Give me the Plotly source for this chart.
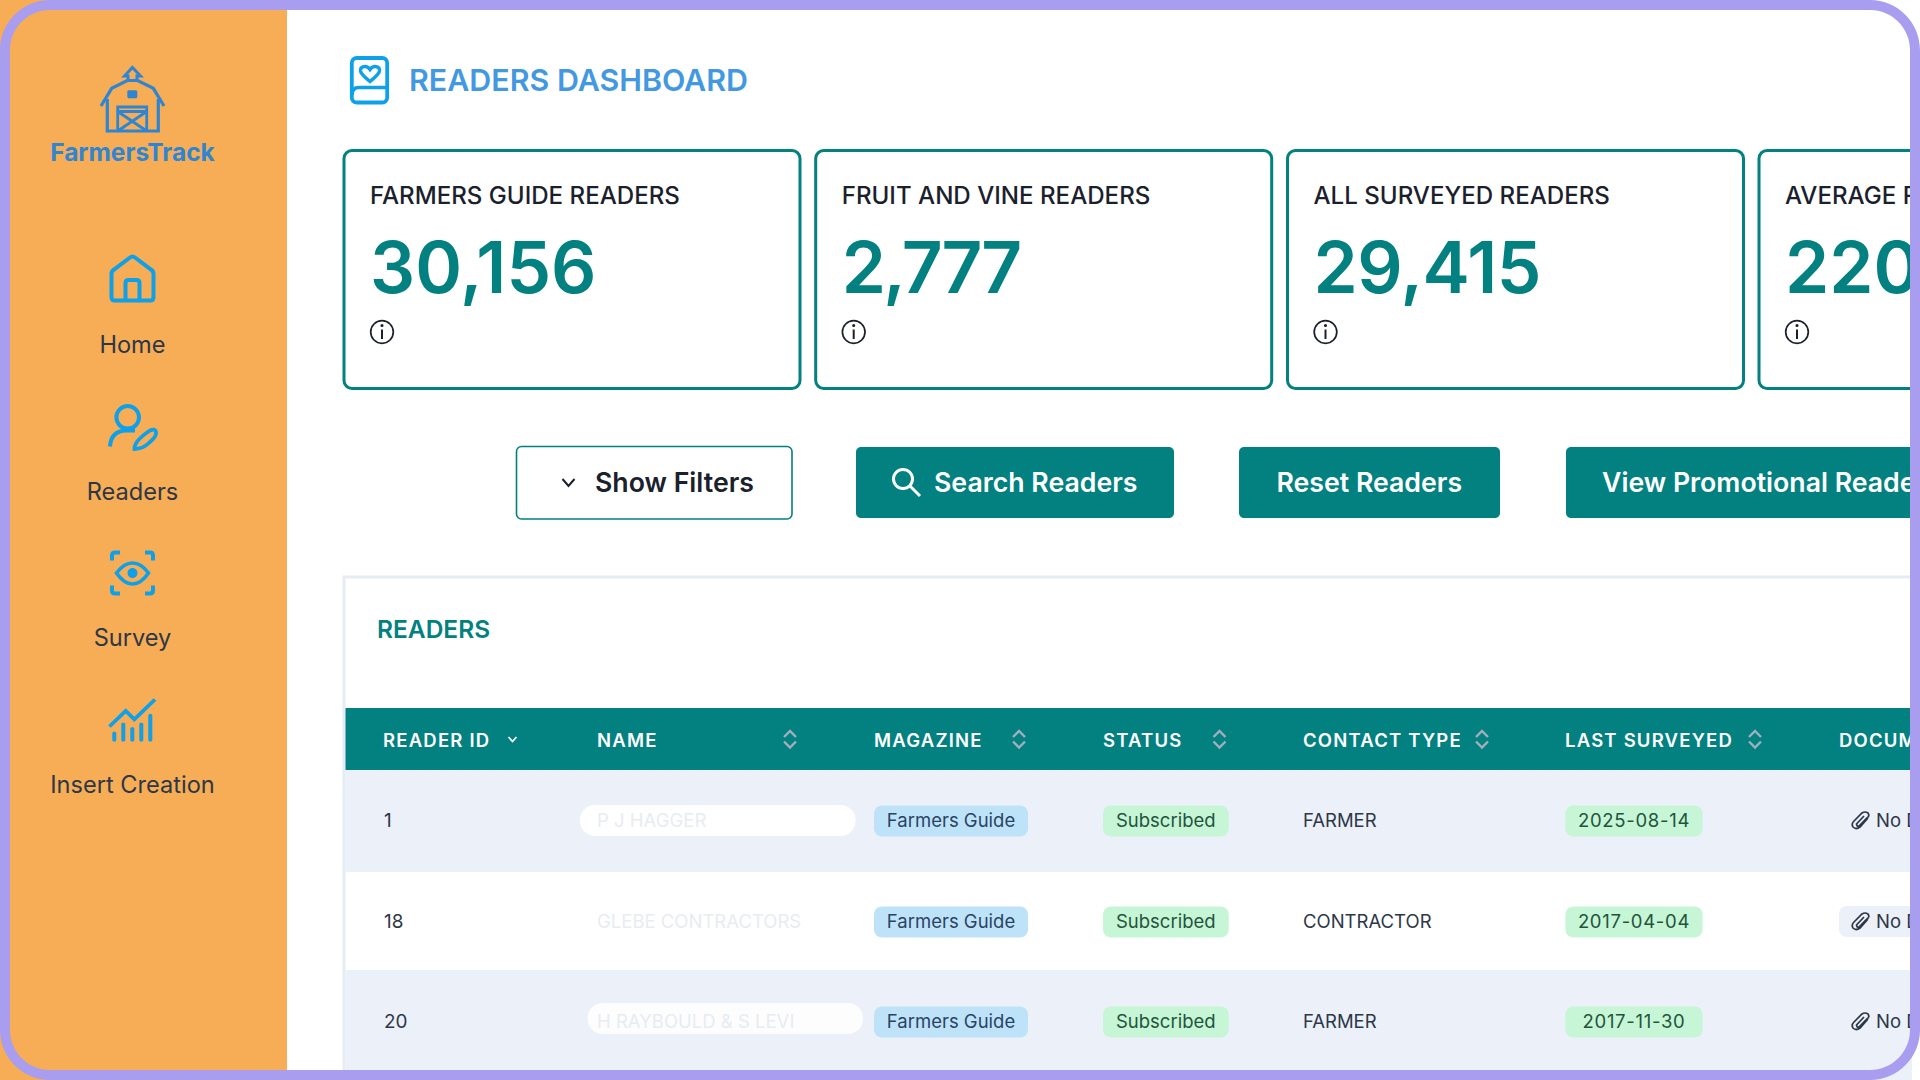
import plotly.graph_objects as go

# ---------- content ----------
brand = "FarmersTrack"
page_title = "READERS DASHBOARD"
nav_labels = ["Home", "Readers", "Survey", "Insert Creation"]
kpi_labels = ["FARMERS GUIDE READERS", "FRUIT AND VINE READERS", "ALL SURVEYED READERS", "AVERAGE READERS"]
kpi_values = ["30,156", "2,777", "29,415", "220"]
button_labels = ["Show Filters", "Search Readers", "Reset Readers", "View Promotional Readers"]
panel_title = "READERS"
columns = ["READER ID", "NAME", "MAGAZINE", "STATUS", "CONTACT TYPE", "LAST SURVEYED", "DOCUMENTS"]
reader_ids = ["1", "18", "20"]
reader_names = ["P J HAGGER", "GLEBE CONTRACTORS", "H RAYBOULD & S LEVI"]
magazines = ["Farmers Guide", "Farmers Guide", "Farmers Guide"]
statuses = ["Subscribed", "Subscribed", "Subscribed"]
contact_types = ["FARMER", "CONTRACTOR", "FARMER"]
last_surveyed = ["2025-08-14", "2017-04-04", "2017-11-30"]
documents = ["No Document", "No Document", "No Document"]

# ---------- layout constants (page pixels) ----------
W, H = 1920, 1080
TEAL, ORANGE, PURPLE = "#038080", "#F6AD55", "#A99DF0"
ICON, LOGO, TITLE = "#0EA0E8", "#2F85D2", "#4299E1"
DARK, BODY = "#1A202C", "#2D3748"
STRIPE = "#ECF0F8"
FONT = "Inter"

shapes, traces = [], []


def rr(x0, y0, x1, y1, r):
    k = 0.4477 * r
    return (f"M {x0+r} {y0} H {x1-r} C {x1-k} {y0} {x1} {y0+k} {x1} {y0+r} V {y1-r} "
            f"C {x1} {y1-k} {x1-k} {y1} {x1-r} {y1} H {x0+r} C {x0+k} {y1} {x0} {y1-k} {x0} {y1-r} "
            f"V {y0+r} C {x0} {y0+k} {x0+k} {y0} {x0+r} {y0} Z")


def path(d, line=None, width=0, fill=None, layer="below"):
    s = dict(type="path", path=d, xref="x", yref="y", layer=layer,
             line=dict(color=line or "rgba(0,0,0,0)", width=width))
    if fill:
        s["fillcolor"] = fill
    shapes.append(s)


def box(x0, y0, x1, y1, r=0, fill=None, line=None, width=0):
    path(rr(x0, y0, x1, y1, r) if r else f"M {x0} {y0} H {x1} V {y1} H {x0} Z", line, width, fill)


def circle(cx, cy, r):
    k = 0.5523 * r
    return (f"M {cx-r} {cy} C {cx-r} {cy-k} {cx-k} {cy-r} {cx} {cy-r} "
            f"C {cx+k} {cy-r} {cx+r} {cy-k} {cx+r} {cy} "
            f"C {cx+r} {cy+k} {cx+k} {cy+r} {cx} {cy+r} "
            f"C {cx-k} {cy+r} {cx-r} {cy+k} {cx-r} {cy} Z")


def text(xs, ys, labels, size, color, weight=400, pos="middle right"):
    traces.append(go.Scatter(x=xs, y=ys, text=labels, mode="text", textposition=pos,
                             textfont=dict(family=FONT, size=size, color=color, weight=weight),
                             hoverinfo="skip", showlegend=False))


# ---------- sidebar ----------
box(0, 0, 287, H, fill=ORANGE)
CX = 132.5
# barn logo
path("M 101 106 L 111.7 88.3 L 127.3 80.5 H 137.7 L 153.3 88.3 L 164 106", LOGO, 3.2)
path("M 128 80 V 76 H 124.5 L 132.4 67.5 L 140.5 76 H 137 V 80", LOGO, 3)
path("M 107.3 99 V 131 H 158.3 V 99", LOGO, 3.2)
box(127.3, 90.3, 137.3, 98.3, r=1.5, fill=LOGO)
path("M 117.7 131 V 107 H 146.7 V 131 M 117.7 111.5 H 146.7 M 117.7 111.5 L 146.7 131 M 146.7 111.5 L 117.7 131", LOGO, 2.8)
text([CX], [155], [brand], 24.5, LOGO, 700, "middle center")
# nav icons
path("M 114.5 300.5 Q 111.5 300.5 111.5 297 V 274 Q 111.5 271 114 269.5 L 130 257.5 Q 132.5 255.5 135 257.5 "
     "L 151 269.5 Q 153.5 271 153.5 274 V 297 Q 153.5 300.5 150.5 300.5 Z", ICON, 4)
path("M 125.5 300.5 V 283 Q 125.5 280 128.5 280 H 136.5 Q 139.5 280 139.5 283 V 300.5", ICON, 4)
path(circle(127.7, 417.3, 11.3), ICON, 4)
path("M 110 446.5 Q 111 431 126 430.5 H 135", ICON, 4)
path("M 134.5 449 Q 134 441 150 430.5 Q 155 428 156 432 Q 157 436 150 442 Q 143 449 134.5 449 Z", ICON, 3.8)
for sx, sy in ((-1, -1), (1, -1), (-1, 1), (1, 1)):
    x1, y1 = CX + sx * 20.5, 573 + sy * 20.5
    path(f"M {x1} {y1 - sy*8} V {y1 - sy*3} Q {x1} {y1} {x1 - sx*3} {y1} H {x1 - sx*8}", ICON, 4)
path("M 116.5 573 Q 124 563 132.5 563 Q 141 563 148.5 573 Q 141 584 132.5 584 Q 124 584 116.5 573 Z", ICON, 3.6)
path(circle(132.5, 573, 5), fill=ICON)
path("M 109.5 726.5 L 125.7 711 L 134.3 719.3 L 155 699.5", ICON, 3.8)
for bx, top in zip((114.3, 123.3, 132.3, 141.3, 150.3), (731.7, 722.7, 727.3, 722.7, 714)):
    box(bx - 2, top, bx + 2, 741.5, r=1.5, fill=ICON)
text([CX] * 4, [347.5, 494.5, 640.5, 787.5], nav_labels, 23.6, BODY, 400, "middle center")

# ---------- header ----------
path(rr(351.8, 58, 387.2, 102.5, 5), ICON, 3.8)
path("M 352 95 Q 352 87.5 359 87.5 H 387", ICON, 3.6)
path("M 370 81.5 C 366 78 361 74.5 360.5 71 C 360 66.5 366.5 64.5 370 69.5 "
     "C 373.5 64.5 380 66.5 379.5 71 C 379 74.5 374 78 370 81.5 Z", ICON, 3.4)
text([409], [83.5], [page_title], 30.4, TITLE, 600)

# ---------- KPI cards ----------
card_left = [344, 815.7, 1287.5, 1759]
for i, x0 in enumerate(card_left):
    box(x0, 150.5, x0 + 456, 388.5, r=8, line=TEAL, width=3)
    path(circle(x0 + 38, 332, 11.3), DARK, 1.7)
    path(f"M {x0+38} 329.5 V 339", DARK, 2)
    path(circle(x0 + 38, 325.5, 0.8), DARK, 1.5)
lx = [x0 + 26 for x0 in card_left]
text(lx, [197.5] * 4, kpi_labels, 24.1, DARK, 500)
text(lx, [275] * 4, kpi_values, 71, TEAL, 600)

# ---------- buttons ----------
box(516.5, 446.5, 792, 519, r=5, fill="#FFFFFF", line=TEAL, width=1.6)
path("M 562.5 479 L 568.5 486 L 574.5 479", DARK, 2)
box(856, 447, 1174, 518, r=5, fill=TEAL)
path(circle(903, 479, 9.5), "#FFFFFF", 3)
path("M 910 486 L 920 496", "#FFFFFF", 3)
box(1239, 447, 1500, 518, r=5, fill=TEAL)
box(1566, 447, 1935, 518, r=5, fill=TEAL)
text([595], [485.5], [button_labels[0]], 26.7, DARK, 600)
text([934, 1276.5, 1602], [485.5] * 3, button_labels[1:], 26.7, "#FFFFFF", 600)

# ---------- table panel ----------
box(344, 577, 1935, H + 10, line="#E5ECF4", width=3)
text([377], [631.5], [panel_title], 24.5, TEAL, 600)
box(345.5, 708, 1912, 770, fill=TEAL)
row_top, row_bot = [770, 872, 970], [872, 970, H]
row_y = [822.5, 923.5, 1023.5]
for i in (0, 2):
    box(345.5, row_top[i], 1912, row_bot[i], fill=STRIPE)
col_x = [383, 597, 874, 1103, 1303, 1565, 1839]
text(col_x, [742] * 7, columns, 18.5, "#FFFFFF", 600)
path("M 508.5 737 L 512.5 741.5 L 516.5 737", "#FFFFFF", 1.8)
for x in (790, 1019, 1219.5, 1482, 1755):
    path(f"M {x-6} 737 L {x} 731 L {x+6} 737 M {x-6} 741.5 L {x} 747.5 L {x+6} 741.5", "#9FB0BC", 2.4)

# name masks and badges
box(580, 805, 855.5, 836, r=15, fill="#FFFFFF")
box(587.6, 1003, 863, 1034, r=15, fill="#FDFDFE")
box(1839, 906, 1950, 937, r=8, fill=STRIPE)
for y in (821, 922, 1022):
    box(874, y - 15.5, 1028, y + 15.5, r=8, fill="#BEE3F8")
    box(1103, y - 15.5, 1228.7, y + 15.5, r=8, fill="#C6F6D5")
    box(1565.4, y - 15.5, 1702.6, y + 15.5, r=8, fill="#C6F6D5")
    c = 1860
    path(f"M {c+8} {y-3} L {c} {y+6} Q {c-4} {y+9} {c-7} {y+6} Q {c-9} {y+3} {c-6} {y} L {c+2} {y-8} "
         f"Q {c+5} {y-10} {c+8} {y-8} Q {c+10} {y-5} {c+7} {y-3} L {c-1} {y+5} Q {c-3} {y+6} {c-3.5} {y+3} L {c+4} {y-5}",
         BODY, 1.7)

text([384] * 3, row_y, reader_ids, 18.9, BODY)
text([597] * 3, row_y, reader_names, 18.5, "#E8ECF1")
text([951] * 3, row_y, magazines, 18.5, "#2A4365", 400, "middle center")
text([1165.8] * 3, row_y, statuses, 18.5, "#22543D", 400, "middle center")
text([1303] * 3, row_y, contact_types, 18.5, BODY)
text([1634] * 3, row_y, last_surveyed, 18.5, "#22543D", 400, "middle center")
text([1876] * 3, row_y, documents, 18.5, BODY)

# ---------- device frame ----------
path(rr(0, 0, W, H, 50) + " " + rr(10, 10, W - 10, H - 10, 40), fill=PURPLE, layer="above")

fig = go.Figure(traces)
fig.update_layout(
    width=W, height=H, margin=dict(l=0, r=0, t=0, b=0, pad=0),
    paper_bgcolor="#FFFFFF", plot_bgcolor="#FFFFFF",
    xaxis=dict(range=[0, W], visible=False, fixedrange=True),
    yaxis=dict(range=[H, 0], visible=False, fixedrange=True),
    shapes=shapes, hovermode=False, showlegend=False,
)
spaced = {c: "1.2px" for c in columns}
spaced.update({d: "0.7px" for d in last_surveyed})
spaced.update({"2,777": "-2.6px", "29,415": "-0.4px"})
post = ("document.body.style.margin='0';document.body.style.overflow='hidden';"
        f"var sp={spaced!r};"
        "document.querySelectorAll('.textpoint text').forEach(function(t){"
        "var s=sp[t.textContent];if(s){t.style.letterSpacing=s;}});")
fig.write_html("out.html", config=dict(displayModeBar=False), post_script=post)
